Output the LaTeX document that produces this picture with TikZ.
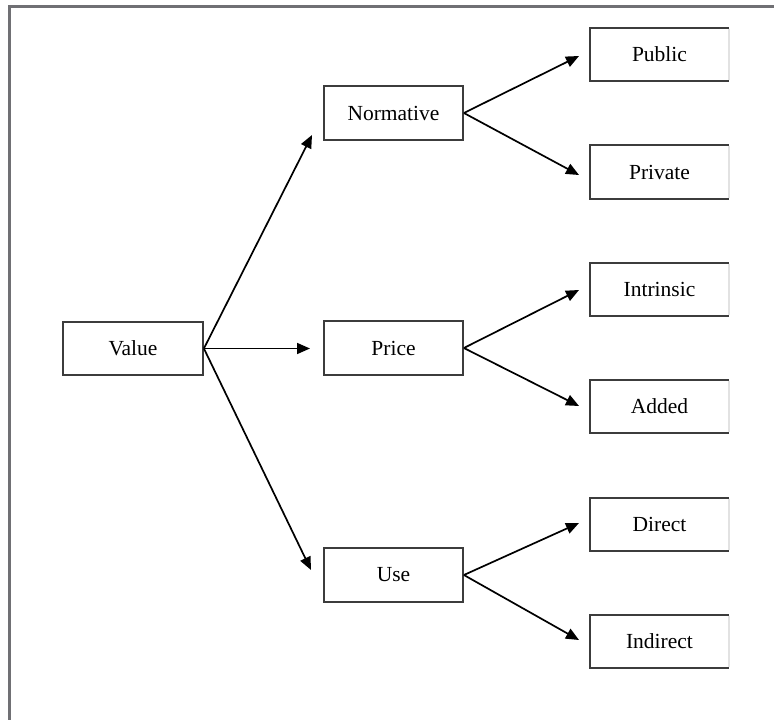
\documentclass[tikz,border=0pt]{standalone}
\usepackage{fontspec}
\setmainfont{Liberation Serif}
\usetikzlibrary{arrows.meta}
\definecolor{framegray}{HTML}{707074}
\definecolor{boxgray}{HTML}{3C3C3C}
\definecolor{edgegray}{HTML}{E2E2E2}
\tikzset{
  boxnode/.style={draw=boxgray, line width=1.8pt, minimum width=140pt, minimum height=53pt, inner sep=0pt, font=\fontsize{21.5}{24}\selectfont},
  opennode/.style={draw=none, minimum width=139pt, minimum height=53pt, inner sep=0pt, font=\fontsize{21.5}{24}\selectfont},
  openline/.style={draw=boxgray, line width=1.8pt},
  arr/.style={line width=1.7pt, -{Triangle[length=13pt,width=11pt]}},
}
\begin{document}
\begin{tikzpicture}[x=1pt,y=-1pt]
\useasboundingbox (0,0) rectangle (774,720);
% frame
\draw[framegray, line width=3pt] (9.5,720) -- (9.5,6) -- (774,6);
% nodes
\node[boxnode] (value) at (133,348.5) {Value};
\node[boxnode, minimum width=139pt, minimum height=54pt] (norm) at (393.5,113) {Normative};
\node[boxnode, minimum width=139pt, minimum height=54pt] (price) at (393.5,348) {Price};
\node[boxnode, minimum width=139pt, minimum height=54pt] (use) at (393.5,575) {Use};
\foreach \n/\t/\y in {pub/Public/54.5, priv/Private/172, intr/Intrinsic/289.5, add/Added/406.5, dir/Direct/524.5, ind/Indirect/641.5}{
  \node[opennode] (\n) at (659.5,\y) {\t};
  \draw[openline] (\n.north east) -- (\n.north west) -- (\n.south west) -- (\n.south east);
  \draw[edgegray, line width=1.5pt] ([yshift=-1pt]\n.north east) -- ([yshift=1pt]\n.south east);
}
% arrow tips
\coordinate (tnorm) at (312,135);
\coordinate (tprice) at (310,348.5);
\coordinate (tuse) at (311,570);
\coordinate (tpub) at (579,56);
\coordinate (tpriv) at (579,175);
\coordinate (tintr) at (579,290);
\coordinate (tadd) at (579,406);
\coordinate (tdir) at (579,523);
\coordinate (tind) at (579,640);
% connectors
\draw[arr] (value.east) -- (tnorm);
\draw[arr] (value.east) -- (tprice);
\draw[arr] (value.east) -- (tuse);
\draw[arr] (norm.east) -- (tpub);
\draw[arr] (norm.east) -- (tpriv);
\draw[arr] (price.east) -- (tintr);
\draw[arr] (price.east) -- (tadd);
\draw[arr] (use.east) -- (tdir);
\draw[arr] (use.east) -- (tind);
\end{tikzpicture}
\end{document}
